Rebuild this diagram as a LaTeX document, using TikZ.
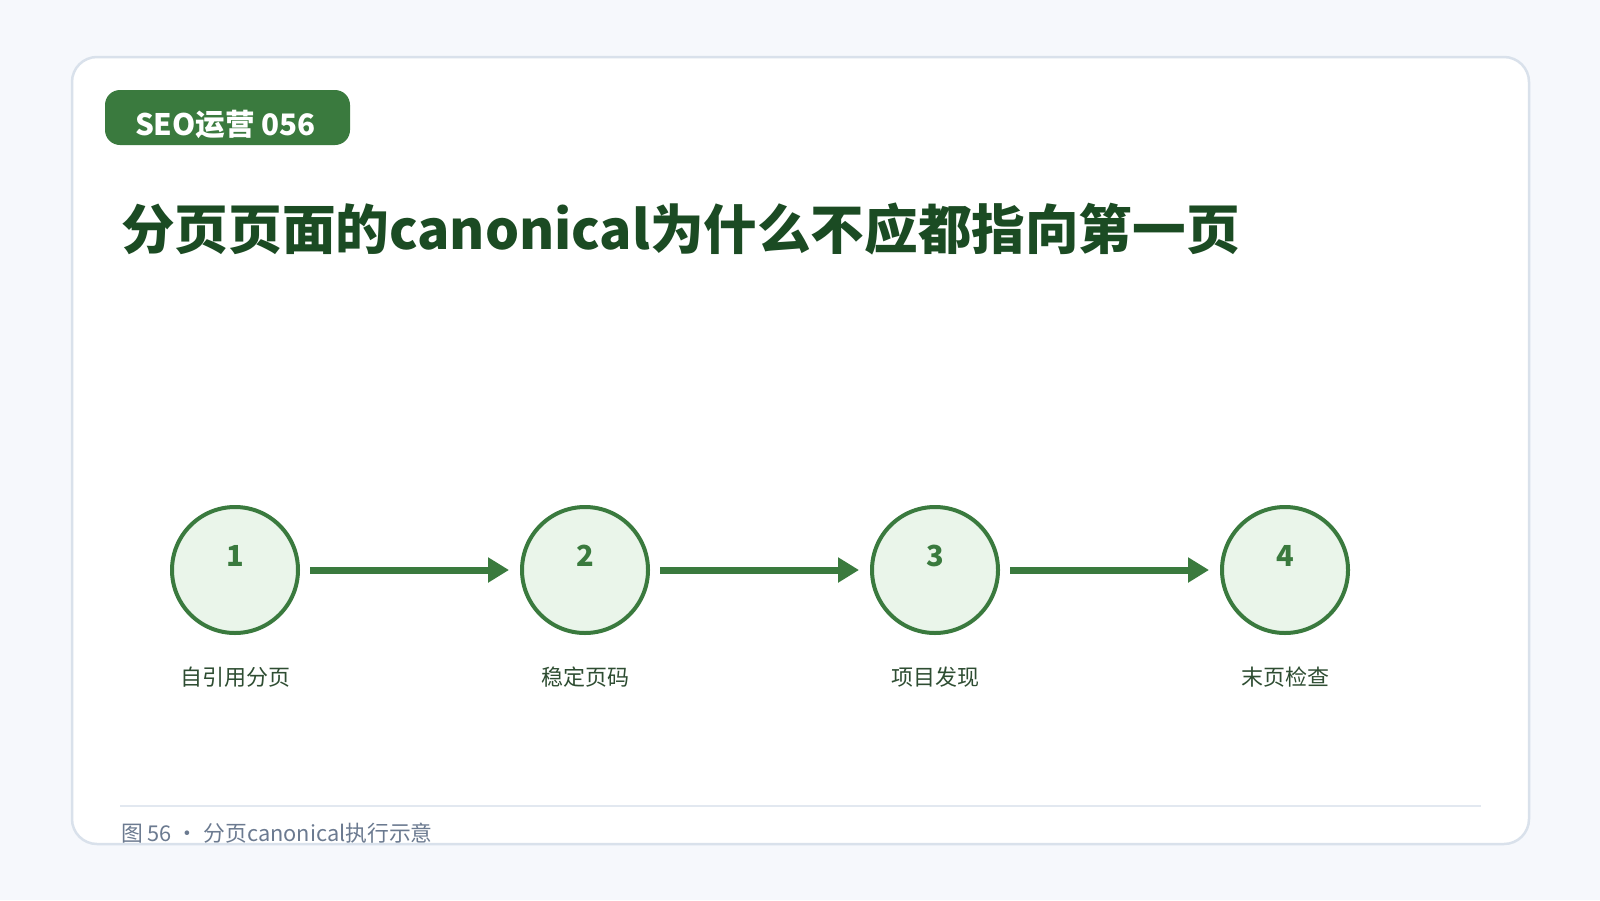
\documentclass[tikz,border=0pt]{standalone}
\usepackage{xcolor}
\usepackage{fontspec}
\setmainfont{Noto Sans CJK SC}
\usepackage{tikz}
\usetikzlibrary{math,arrows.meta}

\definecolor{pagebg}{HTML}{F6F8FC}
\definecolor{cardline}{HTML}{D9E1EB}
\definecolor{footline}{HTML}{E2E8F0}
\definecolor{leafgreen}{HTML}{3A7A3E}
\definecolor{deepgreen}{HTML}{1B4B23}
\definecolor{palegreen}{HTML}{EAF5EA}
\definecolor{labelgreen}{HTML}{2E4D32}
\definecolor{captiongray}{HTML}{6B7A90}

\begin{document}
\begin{tikzpicture}[x=1pt,y=-1pt,
	stepcircle/.style={circle,draw=leafgreen,line width=4pt,fill=palegreen,minimum size=126pt,inner sep=0pt},
	stepnum/.style={text=leafgreen,font=\fontsize{29}{32}\selectfont\bfseries,inner sep=0pt},
	steplabel/.style={text=labelgreen,font=\fontsize{22}{26}\selectfont,inner sep=0pt},
	flowarrow/.style={draw=leafgreen,line width=7pt,-{Triangle[length=21pt,width=24pt]},shorten <=10pt,shorten >=11pt}]
\useasboundingbox (0,0) rectangle (1600,900);
\tikzmath{
	\cx = 235;\dx = 350;\cy = 570;
	\ny = 556;\ly = 677;
	{\fill[pagebg] (0,0) rectangle (1600,900);};
	{\draw[cardline,line width=2.5pt,fill=white,rounded corners=25pt] (72,57) rectangle (1529,844);};
	%
	{\node[fill=leafgreen,rounded corners=15pt,minimum width=245pt,minimum height=55pt,inner sep=0pt] (tag) at (227.5,117.5) {};};
	{\node[anchor=base,text=white,font=\fontsize{29.6}{32}\selectfont\bfseries,inner sep=0pt] (tagtext) at (225.5,135) {SEO运营 056};};
	{\node[anchor=base west,text=deepgreen,font=\fontsize{53.6}{60}\selectfont\bfseries,inner sep=0pt] (title) at (121,249) {分页页面的canonical为什么不应都指向第一页};};
	%
	{\node[stepcircle] (c1) at (\cx,\cy) {};};
	{\node[stepcircle] (c2) at (\cx+\dx,\cy) {};};
	{\node[stepcircle] (c3) at (\cx+2*\dx,\cy) {};};
	{\node[stepcircle] (c4) at (\cx+3*\dx,\cy) {};};
	{\node[stepnum] (n1) at (\cx,\ny) {1};};
	{\node[stepnum] (n2) at (\cx+\dx,\ny) {2};};
	{\node[stepnum] (n3) at (\cx+2*\dx,\ny) {3};};
	{\node[stepnum] (n4) at (\cx+3*\dx,\ny) {4};};
	{\node[steplabel] (l1) at (\cx,\ly) {自引用分页};};
	{\node[steplabel] (l2) at (\cx+\dx,\ly) {稳定页码};};
	{\node[steplabel] (l3) at (\cx+2*\dx,\ly) {项目发现};};
	{\node[steplabel] (l4) at (\cx+3*\dx,\ly) {末页检查};};
	{\draw[flowarrow] (c1) -- (c2);};
	{\draw[flowarrow] (c2) -- (c3);};
	{\draw[flowarrow] (c3) -- (c4);};
	%
	{\coordinate (fa) at (120,805.5);};
	{\coordinate (fb) at (1481,805.5);};
	{\draw[footline,line width=2pt] (fa) -- (fb);};
	{\node[anchor=base west,text=captiongray,font=\fontsize{21.8}{26}\selectfont,inner sep=0pt] (caption) at (121,841) {图 56 • 分页canonical执行示意};};
};
\end{tikzpicture}
\end{document}
